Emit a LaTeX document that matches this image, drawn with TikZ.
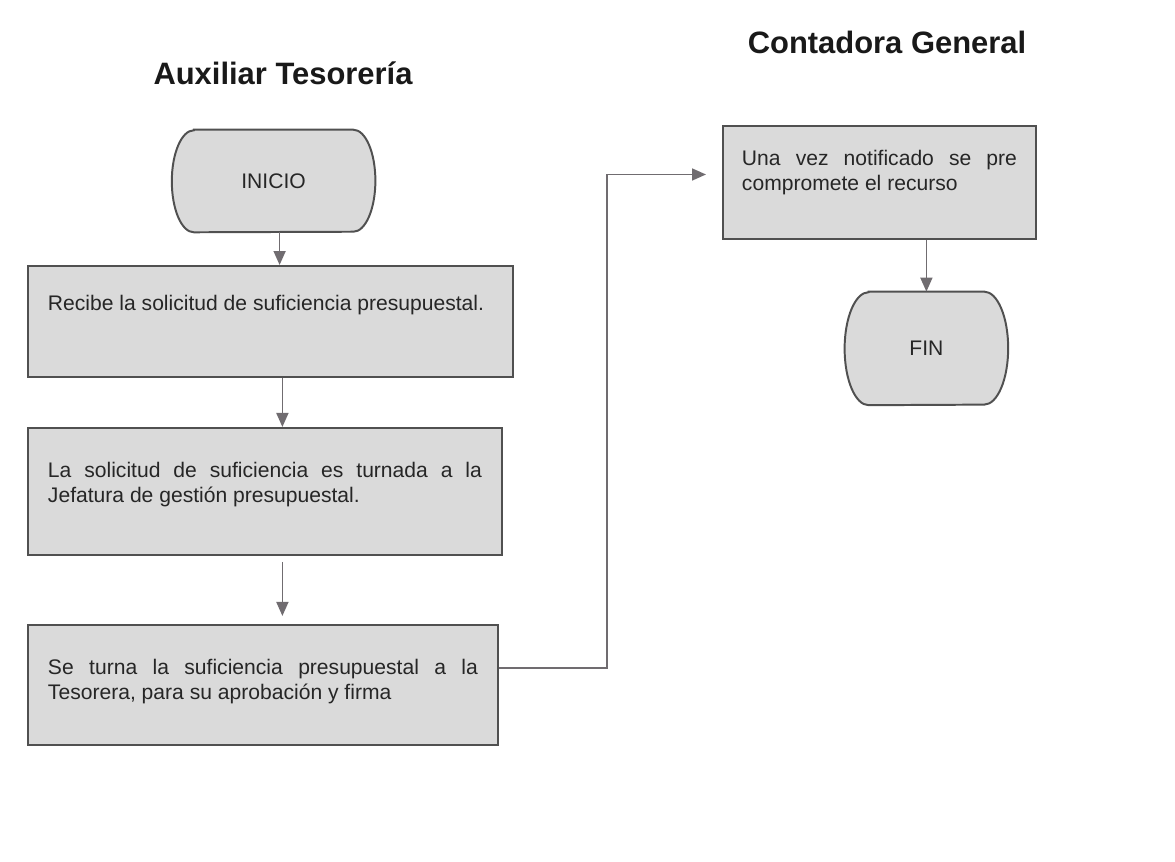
\documentclass[tikz,border=0pt]{standalone}
\usepackage{fontspec}
\setmainfont{Liberation Sans}
\usepackage{tikz}
\usetikzlibrary{arrows.meta,positioning,backgrounds}

\definecolor{boxgray}{RGB}{218,218,218}
\definecolor{linegray}{RGB}{80,80,80}
\definecolor{arrowgray}{RGB}{112,108,112}

\begin{document}
\begin{tikzpicture}[
	headtext/.style={font=\fontsize{22}{26}\selectfont\bfseries, text=black!90},
	graybox/.style={draw=linegray, line width=1.4pt, fill=boxgray, align=justify, inner xsep=0.5cm, inner ysep=0pt, font=\fontsize{15}{17.7}\selectfont, text=black!85},
	endbox/.style={inner sep=0pt, font=\fontsize{15}{18}\selectfont, text=black!85},
	endline/.style={draw=linegray, line width=1.4pt, fill=boxgray},
	arrowline/.style={draw=arrowgray, line width=1.2pt, -{Triangle[length=0.35cm, width=0.3cm]}}
	]
	\useasboundingbox (0,0) rectangle (29.375,-21.525);
	
	% Headers
	\node[headtext] (aux) at (7.075,-1.825) {Auxiliar Tesorería};
	\node[headtext] (cont) at (22.175,-1.05) {Contadora General};
	
	% Nodes
	\node[endbox, minimum width=5.075cm, minimum height=2.55cm] (inicio) at (6.84,-4.525) {INICIO};
	\node[graybox, anchor=north west, text width=11.125cm, text height=1.125cm, text depth=1.65cm] (recibe) at (0.675,-6.625) {Recibe la solicitud de suficiencia presupuestal.};
	\node[graybox, below=1.225cm of recibe.south west, anchor=north west, text width=10.85cm, text height=1.25cm, text depth=1.925cm] (turna) {La solicitud de suficiencia es turnada a la\linebreak Jefatura de gestión presupuestal.};
	\node[graybox, below=1.7cm of turna.south west, anchor=north west, text width=10.75cm, text height=1.25cm, text depth=1.75cm] (tesorera) {Se turna la suficiencia presupuestal a la\linebreak Tesorera, para su aprobación y firma};
	
	\node[graybox, anchor=north west, inner xsep=0.475cm, text width=6.875cm, text height=1cm, text depth=1.825cm] (notifica) at (18.05,-3.125) {Una vez notificado se pre\linebreak compromete el recurso};
	\node[endbox, minimum width=4.075cm, minimum height=2.825cm] (fin) at (23.16,-8.71) {FIN};
	
	% Terminal outlines
	\begin{scope}[on background layer]
		\path[endline] ([xshift=0.55cm]inicio.north west) -- ([xshift=-0.55cm]inicio.north east)
			arc[start angle=90, end angle=-90, x radius=0.55cm, y radius=1.275cm]
			-- ([xshift=0.55cm]inicio.south west)
			arc[start angle=270, end angle=90, x radius=0.55cm, y radius=1.275cm] -- cycle;
		\path[endline] ([xshift=0.6cm]fin.north west) -- ([xshift=-0.6cm]fin.north east)
			arc[start angle=90, end angle=-90, x radius=0.6cm, y radius=1.4125cm]
			-- ([xshift=0.6cm]fin.south west)
			arc[start angle=270, end angle=90, x radius=0.6cm, y radius=1.4125cm] -- cycle;
	\end{scope}
	
	% Arrows
	\draw[arrowline] ([xshift=0.15cm]inicio.south) -- ([xshift=0.15cm]inicio.south |- recibe.north);
	\draw[arrowline] ([xshift=0.22cm]inicio.south |- recibe.south) -- ([xshift=0.22cm]inicio.south |- turna.north);
	\draw[arrowline] ([xshift=0.22cm,yshift=-0.15cm]inicio.south |- turna.south) -- ([xshift=0.22cm,yshift=0.2cm]inicio.south |- tesorera.north);
	\draw[arrowline] ([yshift=0.425cm]tesorera.east) -- ++(2.7cm,0) |- ([xshift=-0.4cm,yshift=0.2cm]notifica.west);
	\draw[arrowline] (notifica.south -| fin) -- (fin.north);
	
\end{tikzpicture}
\end{document}
